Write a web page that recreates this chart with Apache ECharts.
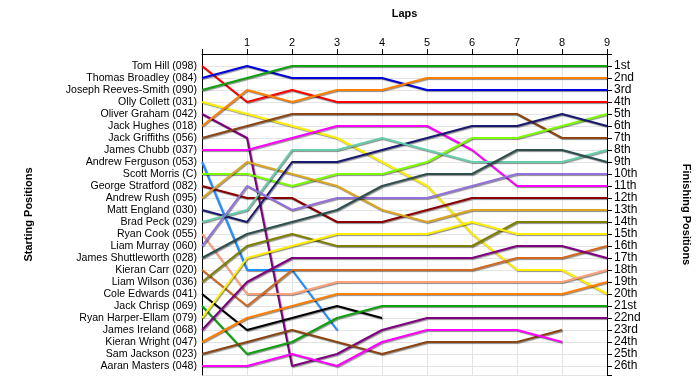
<!DOCTYPE html>
<html>
<head>
<meta charset="utf-8">
<script src="https://cdn.jsdelivr.net/npm/echarts@6/dist/echarts.min.js"></script>
<style>html,body{margin:0;padding:0;background:#fff;}#c{width:700px;height:390px;}</style>
</head>
<body>
<div id="c"></div>
<script>
// Laps (x) and tick labels
const laps = [0, 1, 2, 3, 4, 5, 6, 7, 8, 9];
const lapLabels = ['1', '2', '3', '4', '5', '6', '7', '8', '9'];

// Starting grid (left axis labels, in start order)
const startNames = [
  'Tom Hill (098)', 'Thomas Broadley (084)', 'Joseph Reeves-Smith (090)', 'Olly Collett (031)',
  'Oliver Graham (042)', 'Jack Hughes (018)', 'Jack Griffiths (056)', 'James Chubb (037)',
  'Andrew Ferguson (053)', 'Scott Morris (C)', 'George Stratford (082)', 'Andrew Rush (095)',
  'Matt England (030)', 'Brad Peck (029)', 'Ryan Cook (055)', 'Liam Murray (060)',
  'James Shuttleworth (028)', 'Kieran Carr (020)', 'Liam Wilson (036)', 'Cole Edwards (041)',
  'Jack Chrisp (069)', 'Ryan Harper-Ellam (079)', 'James Ireland (068)', 'Kieran Wright (047)',
  'Sam Jackson (023)', 'Aaran Masters (048)'
];

// Finishing position labels (right axis)
const finishLabels = ['1st','2nd','3rd','4th','5th','6th','7th','8th','9th','10th','11th','12th','13th',
  '14th','15th','16th','17th','18th','19th','20th','21st','22nd','23rd','24th','25th','26th'];

// Position of each driver after each lap (lap 0 = start); null = retired
const tomHill          = [1, 4, 3, 4, 4, 4, 4, 4, 4, 4];
const thomasBroadley   = [2, 1, 2, 2, 2, 3, 3, 3, 3, 3];
const josephReevesSmith= [3, 2, 1, 1, 1, 1, 1, 1, 1, 1];
const ollyCollett      = [4, 5, 6, 7, 9, 11, 15, 18, 18, 20];
const oliverGraham     = [5, 7, 26, 25, 23, 22, 22, 22, 22, 22];
const jackHughes       = [6, 3, 4, 3, 3, 2, 2, 2, 2, 2];
const jackGriffiths    = [7, 6, 5, 5, 5, 5, 5, 5, 7, 7];
const jamesChubb       = [8, 8, 7, 6, 6, 6, 8, 11, 11, 11];
const andrewFerguson   = [9, 18, 18, 23, null, null, null, null, null, null];
const scottMorris      = [10, 10, 11, 10, 10, 9, 7, 7, 6, 5];
const georgeStratford  = [11, 12, 12, 14, 14, 13, 12, 12, 12, 12];
const andrewRush       = [12, 9, 10, 11, 13, 14, 13, 13, 13, 13];
const mattEngland      = [13, 14, 9, 9, 8, 7, 6, 6, 5, 6];
const bradPeck         = [14, 13, 8, 8, 7, 8, 9, 9, 9, 8];
const ryanCook         = [15, 20, 20, 19, 19, 19, 19, 19, 19, 18];
const liamMurray       = [16, 11, 13, 12, 12, 12, 11, 10, 10, 10];
const jamesShuttleworth= [17, 15, 14, 13, 11, 10, 10, 8, 8, 9];
const kieranCarr       = [18, 21, 18, 18, 18, 18, 18, 17, 17, 16];
const liamWilson       = [19, 16, 15, 16, 16, 16, 16, 14, 14, 14];
const coleEdwards      = [20, 23, 22, 21, 22, null, null, null, null, null];
const jackChrisp       = [21, 25, 24, 22, 21, 21, 21, 21, 21, 21];
const ryanHarperEllam  = [22, 17, 16, 15, 15, 15, 14, 15, 15, 15];
const jamesIreland     = [23, 19, 17, 17, 17, 17, 17, 16, 16, 17];
const kieranWright     = [24, 22, 21, 20, 20, 20, 20, 20, 20, 19];
const samJackson       = [25, 24, 23, 24, 25, 24, 24, 24, 23, null];
const aaranMasters     = [26, 26, 25, 26, 24, 23, 23, 23, 24, null];

const driverPositions = [tomHill, thomasBroadley, josephReevesSmith, ollyCollett, oliverGraham,
  jackHughes, jackGriffiths, jamesChubb, andrewFerguson, scottMorris, georgeStratford, andrewRush,
  mattEngland, bradPeck, ryanCook, liamMurray, jamesShuttleworth, kieranCarr, liamWilson,
  coleEdwards, jackChrisp, ryanHarperEllam, jamesIreland, kieranWright, samJackson, aaranMasters];

const lineColors = ['#ff0000','#0000dd','#10a010','#ffee00','#800080','#ff8000','#8b4513','#ff00ff',
  '#1e90ff','#7cfc00','#8b0000','#daa520','#191970','#66cdaa','#ffa07a','#9370db','#2f4f4f',
  '#d2691e','#808000','#000000','#10a010','#ffee00','#800080','#ff8000','#8b4513','#ff00ff'];

const series = driverPositions.map((pos, i) => ({
  type: 'line',
  name: startNames[i],
  data: laps.filter((l, k) => pos[k] != null).map((l, k) => [l, pos[k]]),
  symbol: 'none',
  color: lineColors[i],
  lineStyle: {
    width: 2, color: lineColors[i],
    shadowColor: 'rgba(0,0,0,0.45)', shadowBlur: 1, shadowOffsetX: 1, shadowOffsetY: 1
  },
  animation: false,
  z: 3
}));

const chart = echarts.init(document.getElementById('c'), null, {renderer: 'canvas'});
chart.setOption({
  backgroundColor: '#ffffff',
  animation: false,
  textStyle: {fontFamily: 'Liberation Sans, Arial, sans-serif'},
  grid: {left: 202, right: 93, top: 54, bottom: 15, containLabel: false},
  xAxis: {
    type: 'value', position: 'top', min: 0, max: 9, interval: 1,
    name: 'Laps', nameLocation: 'middle', nameGap: 35,
    nameTextStyle: {fontWeight: 'bold', fontSize: 11, color: '#000'},
    axisLine: {show: true, lineStyle: {color: '#000', width: 1}},
    axisTick: {show: true, inside: false, length: 5, lineStyle: {color: '#000'}},
    axisLabel: {fontSize: 11, color: '#000', margin: 6,
      formatter: v => (v >= 1 && v <= 9 ? lapLabels[v - 1] : '')},
    splitLine: {show: true, lineStyle: {color: '#e4e4e4', width: 1}}
  },
  yAxis: [{
    type: 'value', position: 'left', inverse: true, min: 0, max: 26.75, interval: 1,
    name: 'Starting Positions', nameLocation: 'middle', nameGap: 168, nameRotate: 90,
    nameTextStyle: {fontWeight: 'bold', fontSize: 11, color: '#000'},
    axisLine: {show: true, onZero: false, lineStyle: {color: '#000', width: 1}},
    axisTick: {show: false},
    axisLabel: {fontSize: 10.6, color: '#000', margin: 5,
      formatter: v => (Number.isInteger(v) && v >= 1 ? startNames[v - 1] : '')},
    splitLine: {show: true, lineStyle: {color: '#e4e4e4', width: 1}}
  }, {
    type: 'value', position: 'right', inverse: true, min: 0, max: 26.75, interval: 1,
    name: 'Finishing Positions', nameLocation: 'middle', nameGap: 74, nameRotate: -90,
    nameTextStyle: {fontWeight: 'bold', fontSize: 11, color: '#000'},
    axisLine: {show: true, onZero: false, lineStyle: {color: '#000', width: 1}},
    axisTick: {show: true, inside: false, length: 5, lineStyle: {color: '#000'}},
    axisLabel: {fontSize: 12, color: '#000', margin: 7,
      formatter: v => (Number.isInteger(v) && v >= 1 ? finishLabels[v - 1] : '')},
    splitLine: {show: false}
  }],
  series: series
});
</script>
</body>
</html>
